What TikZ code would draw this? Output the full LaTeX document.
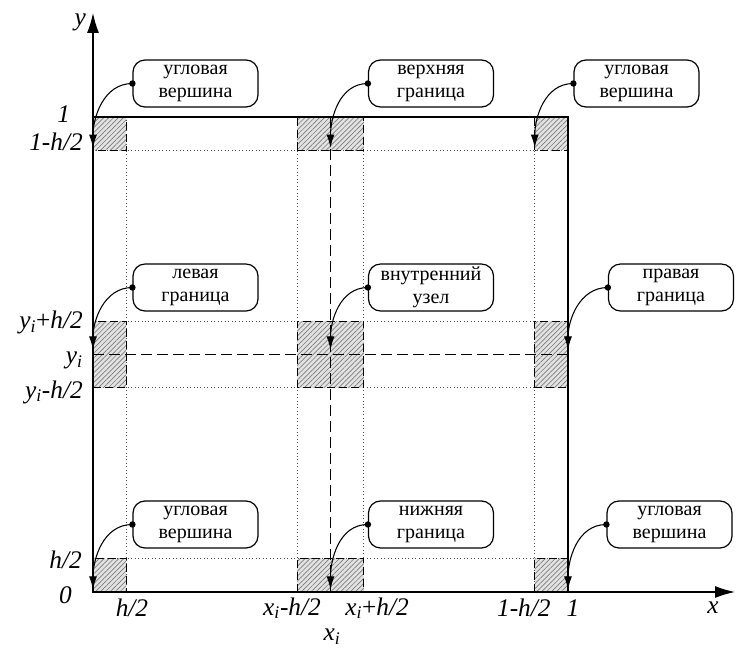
\documentclass[tikz,border=0pt]{standalone}
\usepackage{fontspec}
\setmainfont{Liberation Serif}
\usetikzlibrary{arrows.meta,positioning,patterns.meta}
\definecolor{hatch}{HTML}{7A7A7A}
\definecolor{cellbg}{HTML}{E3E3E3}

\begin{document}
\begin{tikzpicture}[x=356.25pt,y=356.25pt,
    callout/.style={draw,line width=0.9pt,rounded corners=9pt,minimum width=93.75pt,minimum height=35.25pt,align=center,inner sep=2pt,font=\fontsize{15}{17.5}\selectfont},
    lbl/.style={inner sep=0pt,font=\fontsize{19}{22}\selectfont\itshape},
    cell/.style={preaction={fill=cellbg},pattern={Lines[angle=45,distance=2.6pt,line width=0.5pt]},pattern color=hatch},
    celledge/.style={dash pattern=on 6pt off 3pt,line width=0.8pt},
    gridline/.style={dotted,line width=0.6pt,black!70},
    midline/.style={dash pattern=on 8pt off 4pt,line width=0.9pt},
    axis/.style={-{Latex[length=15pt,width=9pt]},line width=1pt},
    pointer/.style={-{Latex[length=10pt,width=6pt]},line width=0.8pt}]
  \useasboundingbox (-0.19579,-0.11789) rectangle (1.35368,1.24632);

  \foreach \p in {0.07,0.43,0.57,0.93}{
    \draw[gridline] (\p,0) -- (\p,1);
    \draw[gridline] (0,\p) -- (1,\p);
  }
  \foreach \ax/\ay/\bx/\by in {0/0/0.07/0.07,0/0.93/0.07/1,0.93/0.93/1/1,0.93/0/1/0.07,
      0.43/0.93/0.57/1,0.43/0/0.57/0.07,0/0.43/0.07/0.57,0.93/0.43/1/0.57,0.43/0.43/0.57/0.57}{
    \fill[cell] (\ax,\ay) rectangle (\bx,\by);
    \draw[celledge] (\ax,\ay) rectangle (\bx,\by);
  }
  \draw[midline] (0.5,0) -- (0.5,1);
  \draw[midline] (0,0.5) -- (1,0.5);

  \coordinate (O) at (0,0);
  \coordinate (xend) at (1.3516,0);
  \coordinate (yend) at (0,1.219);
  \draw[axis] (O) -- (xend);
  \draw[axis] (O) -- (yend);
  \draw[line width=1.8pt] (0,0) rectangle (1,1);

  \node[lbl] (ylab) at (-0.027,1.2) {y};
  \node[lbl] (xlab) at (1.305,-0.034) {x};
  \node[lbl] (bh) at (0.082,-0.034) {h/2};
  \node[lbl] (bxm) at (0.419,-0.034) {x\textsubscript{i}-h/2};
  \node[lbl] (bxp) at (0.598,-0.034) {x\textsubscript{i}\textup{+}h/2};
  \node[lbl] (bxi) at (0.503,-0.094) {x\textsubscript{i}};
  \node[lbl] (bmh) at (0.907,-0.034) {1-h/2};
  \node[lbl] (bone) at (1.0105,-0.034) {1};
  \node[lbl,anchor=east] (lone) at (-0.048,1.006) {1};
  \node[lbl,anchor=east] (lmh) at (-0.021,0.948) {1-h/2};
  \node[lbl,anchor=east] (lyp) at (-0.021,0.568) {y\textsubscript{i}\textup{+}h/2};
  \node[lbl,anchor=east] (lyi) at (-0.021,0.488) {y\textsubscript{i}};
  \node[lbl,anchor=east] (lym) at (-0.021,0.421) {y\textsubscript{i}-h/2};
  \node[lbl,anchor=east] (lh) at (-0.023,0.067) {h/2};
  \node[lbl,anchor=east] (lzero) at (-0.044,-0.006) {0};

  \node[callout] (tl) at (0.2158,1.0705) {угловая\\вершина};
  \node[callout] (tm) at (0.7116,1.0705) {верхняя\\граница};
  \node[callout] (tr) at (1.1442,1.0705) {угловая\\вершина};
  \node[callout] (ml) at (0.2158,0.641) {левая\\граница};
  \node[callout] (mm) at (0.7116,0.641) {внутренний\\узел};
  \node[callout] (mr) at (1.2168,0.641) {правая\\граница};
  \node[callout] (bl) at (0.2158,0.1421) {угловая\\вершина};
  \node[callout] (bm) at (0.7116,0.1421) {нижняя\\граница};
  \node[callout] (br) at (1.2137,0.1421) {угловая\\вершина};

  \coordinate (pTL) at (0,0.935);
  \coordinate (pTM) at (0.5,0.935);
  \coordinate (pTR) at (0.93,0.935);
  \coordinate (pML) at (0,0.51);
  \coordinate (pMM) at (0.5,0.51);
  \coordinate (pMR) at (1,0.51);
  \coordinate (pBL) at (0,0.005);
  \coordinate (pBM) at (0.5,0.005);
  \coordinate (pBR) at (1,0.005);
  \foreach \b/\t in {tl/pTL,tm/pTM,tr/pTR,ml/pML,mm/pMM,mr/pMR,bl/pBL,bm/pBM,br/pBR}{
    \fill (\b.west) circle[radius=2.4pt];
    \draw[pointer] (\b.west) to[out=180,in=90] (\t);
  }
\end{tikzpicture}
\end{document}
